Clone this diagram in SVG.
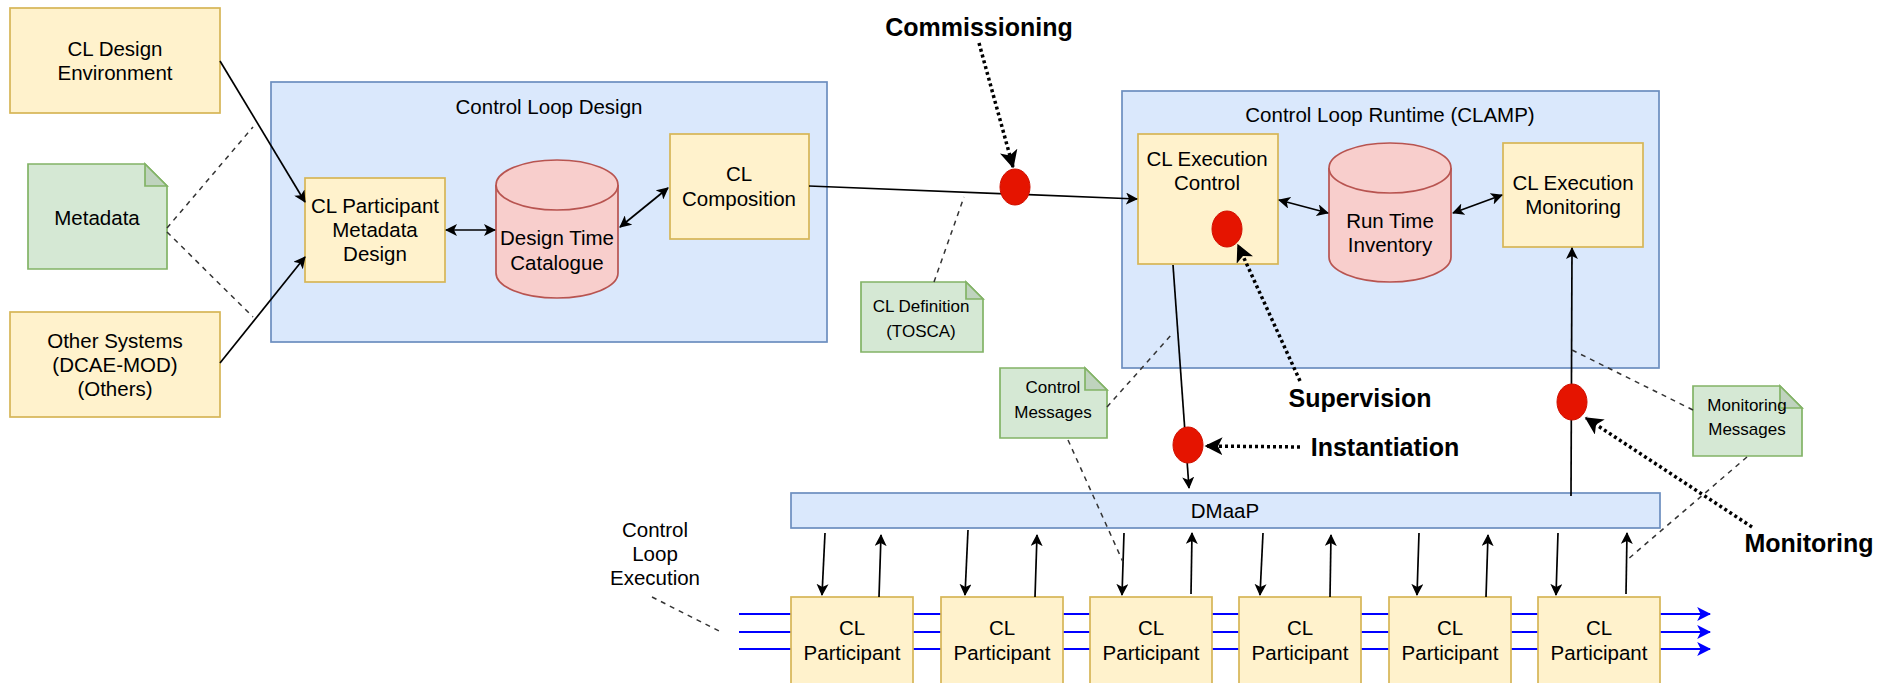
<svg xmlns="http://www.w3.org/2000/svg" width="1881" height="683" viewBox="0 0 1881 683">
<defs>
<style>
.box{fill:#fff2cc;stroke:#d6b656;stroke-width:1.7}
.cont{fill:#dae8fc;stroke:#6c8ebf;stroke-width:1.7}
.cyl{fill:#f8cecc;stroke:#b85450;stroke-width:1.7}
.note{fill:#d5e8d4;stroke:#82b366;stroke-width:1.7}
.fold{fill:#bfd3be;stroke:#82b366;stroke-width:1.7}
.dot{fill:#e51400;stroke:#d01000;stroke-width:1}
text{font-family:"Liberation Sans",Arial,Helvetica,sans-serif;fill:#000;text-anchor:middle;dominant-baseline:central}
.t{font-size:20.5px}
.s{font-size:17px}
.b{font-size:25px;font-weight:bold}
.ln{fill:none;stroke:#000;stroke-width:1.7}
.arr{marker-end:url(#a)}
.dbl{marker-start:url(#a);marker-end:url(#a)}
.dash{fill:none;stroke:#333;stroke-width:1.5;stroke-dasharray:5 5}
.dotted{fill:none;stroke:#000;stroke-width:3.5;stroke-dasharray:3 3;marker-end:url(#ab)}
.blue{fill:none;stroke:#0000ff;stroke-width:2.2;marker-end:url(#abl)}
</style>
<marker id="a" viewBox="0 0 12 12" markerWidth="12" markerHeight="12" refX="11" refY="6" orient="auto-start-reverse" markerUnits="userSpaceOnUse"><path d="M0,0 L12,6 L0,12 L3,6 Z" fill="#000"/></marker>
<marker id="ab" viewBox="0 0 12 12" markerWidth="18" markerHeight="18" refX="11" refY="6" orient="auto" markerUnits="userSpaceOnUse"><path d="M0,0 L12,6 L0,12 L3,6 Z" fill="#000"/></marker>
<marker id="abl" viewBox="0 0 12 12" markerWidth="14" markerHeight="14" refX="11" refY="6" orient="auto" markerUnits="userSpaceOnUse"><path d="M0,0 L12,6 L0,12 L3,6 Z" fill="#0000ff"/></marker>
</defs>
<rect width="1881" height="683" fill="#ffffff"/>

<g id="control-loop-design">
<rect class="cont" x="271" y="82" width="556" height="260"/>
<text class="t" x="549" y="106">Control Loop Design</text>
</g>
<g id="control-loop-runtime">
<rect class="cont" x="1122" y="91" width="537" height="277"/>
<text class="t" x="1390" y="114">Control Loop Runtime (CLAMP)</text>
</g>

<g id="execution-flow">
<path class="blue" d="M739,614 H1710"/>
<path class="blue" d="M739,632 H1710"/>
<path class="blue" d="M739,649 H1710"/>
</g>

<g id="cl-design-env">
<rect class="box" x="10" y="8" width="210" height="105"/>
<text class="t" x="115" y="48">CL Design</text>
<text class="t" x="115" y="72">Environment</text>
</g>
<g id="metadata">
<path class="note" d="M28,164 H145 L167,186 V269 H28 Z"/>
<path class="fold" d="M145,164 V186 H167 Z"/>
<text class="t" x="97" y="217">Metadata</text>
</g>
<g id="other-systems">
<rect class="box" x="10" y="312" width="210" height="105"/>
<text class="t" x="115" y="340">Other Systems</text>
<text class="t" x="115" y="364">(DCAE-MOD)</text>
<text class="t" x="115" y="388">(Others)</text>
</g>
<g id="cl-participant-metadata-design">
<rect class="box" x="305" y="178" width="140" height="104"/>
<text class="t" x="375" y="205">CL Participant</text>
<text class="t" x="375" y="229">Metadata</text>
<text class="t" x="375" y="253">Design</text>
</g>
<g id="design-time-catalogue">
<path class="cyl" d="M496,185 A61,25 0 0 1 618,185 V273 A61,25 0 0 1 496,273 Z"/>
<path class="cyl" d="M496,185 A61,25 0 0 0 618,185" fill="none"/>
<text class="t" x="557" y="237">Design Time</text>
<text class="t" x="557" y="262">Catalogue</text>
</g>
<g id="cl-composition">
<rect class="box" x="670" y="134" width="139" height="105"/>
<text class="t" x="739" y="173">CL</text>
<text class="t" x="739" y="198">Composition</text>
</g>
<g id="cl-definition">
<path class="note" d="M861,282 H966 L983,299 V352 H861 Z"/>
<path class="fold" d="M966,282 V299 H983 Z"/>
<text class="s" x="921" y="306">CL Definition</text>
<text class="s" x="921" y="331">(TOSCA)</text>
</g>
<g id="cl-execution-control">
<rect class="box" x="1138" y="134" width="140" height="130"/>
<text class="t" x="1207" y="158">CL Execution</text>
<text class="t" x="1207" y="182">Control</text>
</g>
<g id="run-time-inventory">
<path class="cyl" d="M1329,168 A61,25 0 0 1 1451,168 V257 A61,25 0 0 1 1329,257 Z"/>
<path class="cyl" d="M1329,168 A61,25 0 0 0 1451,168" fill="none"/>
<text class="t" x="1390" y="220">Run Time</text>
<text class="t" x="1390" y="244">Inventory</text>
</g>
<g id="cl-execution-monitoring">
<rect class="box" x="1503" y="143" width="140" height="104"/>
<text class="t" x="1573" y="182">CL Execution</text>
<text class="t" x="1573" y="206">Monitoring</text>
</g>
<g id="control-messages">
<path class="note" d="M1000,368 H1085 L1107,390 V438 H1000 Z"/>
<path class="fold" d="M1085,368 V390 H1107 Z"/>
<text class="s" x="1053" y="387">Control</text>
<text class="s" x="1053" y="412">Messages</text>
</g>
<g id="monitoring-messages">
<path class="note" d="M1693,386 H1780 L1802,408 V456 H1693 Z"/>
<path class="fold" d="M1780,386 V408 H1802 Z"/>
<text class="s" x="1747" y="405">Monitoring</text>
<text class="s" x="1747" y="429">Messages</text>
</g>
<g id="dmaap">
<rect class="cont" x="791" y="493" width="869" height="35"/>
<text class="t" x="1225" y="510">DMaaP</text>
</g>
<g id="control-loop-execution-label">
<text class="t" x="655" y="529">Control</text>
<text class="t" x="655" y="553">Loop</text>
<text class="t" x="655" y="577">Execution</text>
</g>
<g id="participant-1"><rect class="box" x="791" y="597" width="122" height="105"/><text class="t" x="852" y="627">CL</text><text class="t" x="852" y="652">Participant</text></g>
<g id="participant-2"><rect class="box" x="941" y="597" width="122" height="105"/><text class="t" x="1002" y="627">CL</text><text class="t" x="1002" y="652">Participant</text></g>
<g id="participant-3"><rect class="box" x="1090" y="597" width="122" height="105"/><text class="t" x="1151" y="627">CL</text><text class="t" x="1151" y="652">Participant</text></g>
<g id="participant-4"><rect class="box" x="1239" y="597" width="122" height="105"/><text class="t" x="1300" y="627">CL</text><text class="t" x="1300" y="652">Participant</text></g>
<g id="participant-5"><rect class="box" x="1389" y="597" width="122" height="105"/><text class="t" x="1450" y="627">CL</text><text class="t" x="1450" y="652">Participant</text></g>
<g id="participant-6"><rect class="box" x="1538" y="597" width="122" height="105"/><text class="t" x="1599" y="627">CL</text><text class="t" x="1599" y="652">Participant</text></g>

<g id="connectors">
<path class="ln arr" d="M220,61 L305,202"/>
<path class="ln arr" d="M220,363 L305,257"/>
<path class="ln dbl" d="M446,230 H495"/>
<path class="ln dbl" d="M620,227 L668,188"/>
<path class="ln arr" d="M809,186 L1137,199"/>
<path class="ln dbl" d="M1279,200 L1328,213"/>
<path class="ln dbl" d="M1453,213 L1502,195"/>
<path class="ln arr" d="M1173,265 L1189,488"/>
<path class="ln arr" d="M1571,496 L1572,248"/>
<path class="ln arr" d="M825,533 L822,595"/>
<path class="ln arr" d="M879,597 L881,535"/>
<path class="ln arr" d="M968,530 L965,595"/>
<path class="ln arr" d="M1035,597 L1037,535"/>
<path class="ln arr" d="M1124,533 L1122,595"/>
<path class="ln arr" d="M1191,594 L1192,533"/>
<path class="ln arr" d="M1263,533 L1260,595"/>
<path class="ln arr" d="M1330,597 L1331,535"/>
<path class="ln arr" d="M1419,533 L1417,595"/>
<path class="ln arr" d="M1486,597 L1488,535"/>
<path class="ln arr" d="M1558,533 L1556,595"/>
<path class="ln arr" d="M1626,594 L1627,533"/>
<path class="dash" d="M167,228 L253,127"/>
<path class="dash" d="M167,232 L253,317"/>
<path class="dash" d="M934,282 L964,197"/>
<path class="dash" d="M1107,407 L1173,333"/>
<path class="dash" d="M1068,440 L1123,562"/>
<path class="dash" d="M1693,410 L1572,350"/>
<path class="dash" d="M1747,457 L1627,560"/>
<path class="dash" d="M652,597 L723,633"/>
<path class="dotted" d="M979,43 L1013,167"/>
<path class="dotted" d="M1300,381 L1238,245"/>
<path class="dotted" d="M1300,447 L1206,446"/>
<path class="dotted" d="M1752,527 L1586,418"/>
</g>

<g id="commissioning-point"><ellipse class="dot" cx="1015" cy="187" rx="15" ry="18"/></g>
<g id="supervision-point"><ellipse class="dot" cx="1227" cy="229" rx="15" ry="18"/></g>
<g id="instantiation-point"><ellipse class="dot" cx="1188" cy="445" rx="15" ry="18"/></g>
<g id="monitoring-point"><ellipse class="dot" cx="1572" cy="402" rx="15" ry="18"/></g>

<g id="labels">
<text class="b" x="979" y="27">Commissioning</text>
<text class="b" x="1360" y="398">Supervision</text>
<text class="b" x="1385" y="447">Instantiation</text>
<text class="b" x="1809" y="543">Monitoring</text>
</g>
</svg>
